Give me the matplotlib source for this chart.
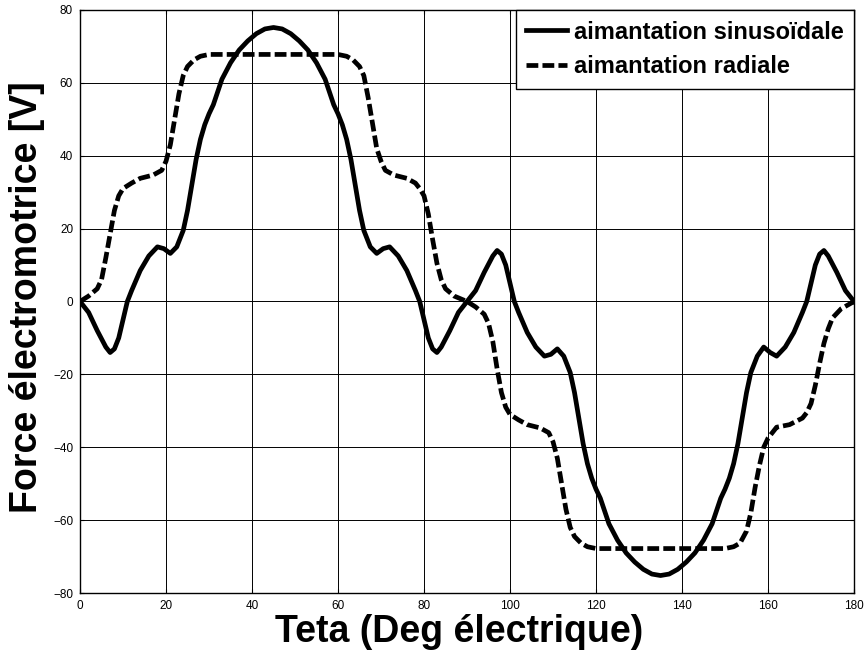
import matplotlib
matplotlib.use("Agg")
import matplotlib.pyplot as plt

plt.rcParams['font.family'] = ['Liberation Sans', 'DejaVu Sans']
plt.rcParams['lines.scale_dashes'] = False

# aimantation sinusoidale
teta_sin = [0, 2, 4, 6, 7, 8, 9, 10, 11, 12, 14, 16, 18, 19.5, 21, 22.5, 24, 25, 26, 27,
            28, 29, 30, 31, 32, 33, 35, 37, 39, 41, 43, 45, 47, 49, 51, 53, 55, 57, 58, 59,
            60, 61, 62, 63, 64, 65, 66, 67.5, 69, 70.5, 72, 74, 76, 78, 79, 80, 81, 82, 83, 84,
            86, 88, 90, 92, 94, 96, 97, 98, 99, 100, 101, 102, 104, 106, 108, 109.5, 111, 112.5, 114, 115,
            116, 117, 118, 119, 120, 121, 122, 123, 125, 127, 129, 131, 133, 135, 137, 139, 141, 143, 145, 147,
            148, 149, 150, 151, 152, 153, 154, 155, 156, 157.5, 159, 160.5, 162, 164, 166, 168, 169, 170, 171, 172,
            173, 174, 176, 178, 180]
fem_sin = [0, -3, -8, -12.5, -14, -13, -10, -5, 0, 3, 8.5, 12.5, 15, 14.5, 13.2, 15, 19.5, 25, 32, 39,
           44.5, 48.5, 51.5, 54, 57.5, 61, 65.5, 69, 71.5, 73.5, 74.8, 75.2, 74.8, 73.5, 71.5, 69, 65.5, 61, 57.5, 54,
           51.5, 48.5, 44.5, 39, 32, 25, 19.5, 15, 13.2, 14.5, 15, 12.5, 8.5, 3, 0, -5, -10, -13, -14, -12.5,
           -8, -3, 0, 3, 8, 12.5, 14, 13, 10, 5, 0, -3, -8.5, -12.5, -15, -14.5, -13, -15, -19.5, -25,
           -32, -39, -44.5, -48.5, -51.5, -54, -57.5, -61, -65.5, -69, -71.5, -73.5, -74.8, -75.2, -74.8, -73.5, -71.5, -69, -65.5, -61,
           -57.5, -54, -51.5, -48.5, -44.5, -39, -32, -25, -19.5, -15, -12.5, -14, -15, -12.5, -8.5, -3, 0, 5, 10, 13,
           14, 12.5, 8, 3, 0]

# aimantation radiale
teta_rad = [0, 2, 4, 5, 6, 7, 8, 9, 10, 12, 14, 17, 19, 20, 21, 22, 23, 24, 25, 26.5,
            28, 30, 35, 40, 45, 50, 55, 60, 62, 63.5, 65, 66, 67, 68, 69, 70, 71, 73, 76, 78,
            79, 80, 81, 82, 83, 84, 85, 87, 90, 92, 94, 95, 96, 97, 98, 99, 100, 102, 104, 107,
            109, 110, 111, 112, 113, 114, 115, 116.5, 118, 120, 130, 140, 150, 152, 153.5, 155, 156, 157, 158, 159,
            160, 162, 165, 168, 169, 170, 171, 172, 173, 174, 175, 177, 180]
fem_rad = [0, 1.5, 3.5, 6, 12, 18.5, 25, 29, 31, 32.5, 33.8, 34.7, 36, 38.5, 43, 50, 57, 62, 64.5, 66.3,
           67.3, 67.8, 67.8, 67.8, 67.8, 67.8, 67.8, 67.8, 67.3, 66.3, 64.5, 62, 56, 49, 42, 38.5, 36, 34.7, 33.8, 32.5,
           31, 29, 24, 17, 10.5, 6, 3.5, 1.5, 0, -1.5, -3.5, -6, -11, -18.5, -25, -29, -31, -32.5, -33.8, -34.7,
           -36, -38.5, -43, -50, -57, -62, -64.5, -66.3, -67.3, -67.8, -67.8, -67.8, -67.8, -67.3, -66.3, -63, -58, -51, -45, -40,
           -37.5, -34.5, -33.8, -32, -30.5, -28, -23, -17, -11.5, -7.5, -4.5, -2, 0]

fig = plt.figure(figsize=(8.68, 6.57), dpi=100)
ax = fig.add_axes([0.0922, 0.0974, 0.8917, 0.8874])

ax.plot(teta_sin, fem_sin, color='k', lw=3.4, solid_joinstyle='round',
        label='aimantation sinusoïdale')
ax.plot(teta_rad, fem_rad, color='k', lw=3.4, dashes=(8.5, 3),
        label='aimantation radiale')

ax.set_xlim(0, 180)
ax.set_ylim(-80, 80)
ax.set_xticks(range(0, 181, 20))
ax.set_yticks(range(-80, 81, 20))
ax.grid(True, color='k', lw=0.7)
ax.tick_params(direction='in', top=True, right=True, length=3, labelsize=8.5, pad=5)
for s in ax.spines.values():
    s.set_linewidth(1.0)

ax.set_xlabel('Teta (Deg électrique)', fontsize=27, fontweight='bold')
ax.xaxis.set_label_coords(0.49, -0.036)
ax.set_ylabel('Force électromotrice [V]', fontsize=27, fontweight='bold')
ax.yaxis.set_label_coords(-0.045, 0.507)

leg = ax.legend(loc='upper right', borderaxespad=0,
                prop={'weight': 'bold', 'size': 17}, fancybox=False, framealpha=1,
                edgecolor='k', handlelength=1.7, handletextpad=0.3,
                borderpad=0.45, labelspacing=0.5)
leg.get_frame().set_linewidth(1.0)

fig.savefig('out.png', dpi=100)
